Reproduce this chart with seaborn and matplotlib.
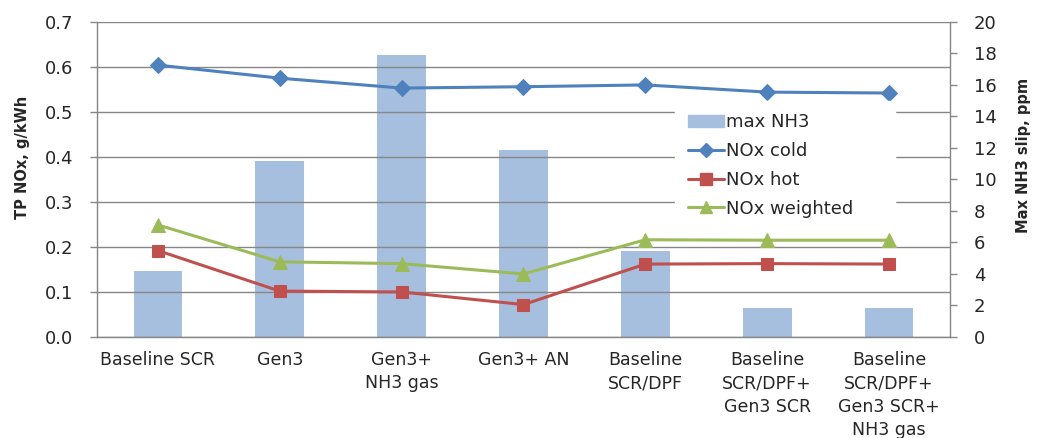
import numpy as np
import pandas as pd
import matplotlib
matplotlib.use("Agg")
import matplotlib.pyplot as plt
import seaborn as sns
from matplotlib.patches import Patch
from matplotlib.lines import Line2D

categories = ["Baseline SCR", "Gen3", "Gen3+\nNH3 gas", "Gen3+ AN", "Baseline\nSCR/DPF",
              "Baseline\nSCR/DPF+\nGen3 SCR", "Baseline\nSCR/DPF+\nGen3 SCR+\nNH3 gas"]
max_nh3 = [4.2, 11.15, 17.9, 11.9, 5.45, 1.82, 1.86]
nox_cold = [0.604, 0.575, 0.553, 0.556, 0.560, 0.544, 0.542]
nox_hot = [0.192, 0.102, 0.100, 0.072, 0.162, 0.163, 0.162]
nox_weighted = [0.249, 0.167, 0.163, 0.140, 0.216, 0.215, 0.215]
left_ticks = [0.0, 0.1, 0.2, 0.3, 0.4, 0.5, 0.6, 0.7]
right_ticks = [0, 2, 4, 6, 8, 10, 12, 14, 16, 18, 20]

sns.set_style("white")
plt.rcParams['font.family'] = ['DejaVu Sans']

c_bar = "#A7BFDE"
c_cold = "#4F81BD"
c_hot = "#C0504D"
c_w = "#9BBB59"
grid_c = "#868686"

fig = plt.figure(figsize=(10.38, 4.38), dpi=100)
ax = fig.add_axes([0.0934, 0.2306, 0.8218, 0.7194])
ax2 = ax.twinx()

pos = np.arange(len(categories))
df = pd.DataFrame({"cat": categories, "nh3": max_nh3})
sns.barplot(data=df, x="cat", y="nh3", ax=ax2, color=c_bar, width=0.4,
            saturation=1, edgecolor=c_bar, linewidth=0)

lw = 2.2
sns.lineplot(x=pos, y=nox_cold, ax=ax, color=c_cold, marker="D", markersize=8,
             markeredgecolor=c_cold, linewidth=lw)
sns.lineplot(x=pos, y=nox_hot, ax=ax, color=c_hot, marker="s", markersize=9,
             markeredgecolor=c_hot, linewidth=lw)
sns.lineplot(x=pos, y=nox_weighted, ax=ax, color=c_w, marker="^", markersize=10,
             markeredgecolor=c_w, linewidth=lw)

ax.set_zorder(ax2.get_zorder() + 1)
ax.patch.set_visible(False)

ax.set_xlim(-0.5, len(categories) - 0.5)
ax2.set_xlim(-0.5, len(categories) - 0.5)
ax.set_ylim(0, 0.7)
ax2.set_ylim(0, 20)

ax.set_yticks(left_ticks)
ax.set_yticklabels([f"{v:.1f}" for v in left_ticks])
ax2.set_yticks(right_ticks)
ax2.set_yticklabels([str(v) for v in right_ticks])

ax.set_xticks(pos)
ax.set_xticklabels(categories, fontsize=12.5, linespacing=1.38, va="top")
ax.set_xticks(np.arange(-0.5, len(categories), 1.0), minor=True)
ax.tick_params(axis="x", which="major", length=0, pad=10)
ax.tick_params(axis="x", which="minor", length=5, color=grid_c, width=1, direction="out")
ax2.tick_params(axis="x", which="both", length=0, labelbottom=False)
ax2.set_xlabel("")

ax.grid(axis="y", color=grid_c, linewidth=1)
ax.tick_params(axis="y", length=5, color=grid_c, width=1, labelsize=13, pad=12)
ax2.tick_params(axis="y", length=5, color=grid_c, width=1, labelsize=13, pad=12)

for a in (ax, ax2):
    a.spines["top"].set_visible(False)
    for s in ("left", "right", "bottom"):
        a.spines[s].set_color(grid_c)
        a.spines[s].set_linewidth(1)
ax.spines["right"].set_visible(False)
ax2.spines["left"].set_visible(False)
ax2.spines["bottom"].set_visible(False)

ax.set_ylabel("TP NOx, g/kWh", fontsize=10.5, fontweight="bold")
ax2.set_ylabel("Max NH3 slip, ppm", fontsize=10.5, fontweight="bold", rotation=90)
ax.yaxis.set_label_coords(-0.079, 0.57)
ax2.yaxis.set_label_coords(1.077, 0.575)
ax.set_xlabel("")

handles = [
    Patch(facecolor=c_bar, edgecolor=c_bar),
    Line2D([], [], color=c_cold, marker="D", markersize=7, linewidth=lw),
    Line2D([], [], color=c_hot, marker="s", markersize=8, linewidth=lw),
    Line2D([], [], color=c_w, marker="^", markersize=8, linewidth=lw),
]
labels = ["max NH3", "NOx cold", "NOx hot", "NOx weighted"]
leg = ax.legend(handles, labels, loc="upper left", bbox_to_anchor=(0.678, 0.5, 0.257, 0.25),
                mode="expand", borderaxespad=0, frameon=True, fontsize=13,
                handlelength=2.0, handletextpad=0.1, labelspacing=0.6, borderpad=0.7,
                fancybox=False)
leg.get_frame().set_edgecolor("white")
leg.get_frame().set_facecolor("white")
leg.get_frame().set_alpha(1)

fig.savefig("out.png", dpi=100)
